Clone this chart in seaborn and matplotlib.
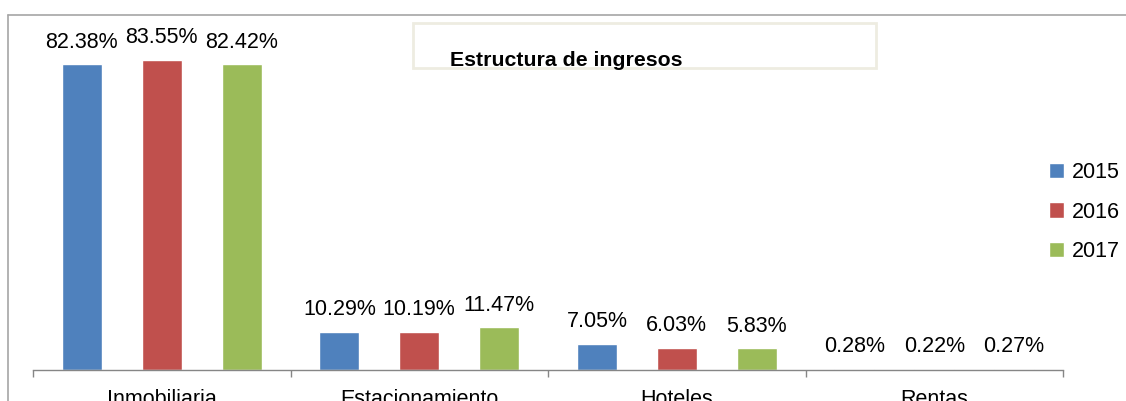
import matplotlib
matplotlib.use('Agg')
import matplotlib.pyplot as plt
from matplotlib.lines import Line2D
from matplotlib.patches import Rectangle
import pandas as pd
import seaborn as sns

categories = ['Inmobiliaria', 'Estacionamiento', 'Hoteles', 'Rentas']
years = ['2015', '2016', '2017']
v2015 = [82.38, 10.29, 7.05, 0.28]
v2016 = [83.55, 10.19, 6.03, 0.22]
v2017 = [82.42, 11.47, 5.83, 0.27]
colors = ['#4F81BD', '#C0504D', '#9BBB59']

df = pd.DataFrame({
    'categoria': categories * 3,
    'anio': [y for y in years for _ in categories],
    'valor': v2015 + v2016 + v2017,
})

sns.set_style('white')
plt.rcParams['font.family'] = ['Liberation Sans', 'DejaVu Sans']
plt.rcParams['text.color'] = 'black'
plt.rcParams['xtick.color'] = 'black'

fig = plt.figure(figsize=(11.26, 4.01), dpi=100)
W, H = 1126, 401
ax = fig.add_axes([33 / W, 1 - 370 / H, (1063 - 33) / W, (370 - 15) / H])

sns.barplot(data=df, x='categoria', y='valor', hue='anio', order=categories,
            hue_order=years, palette=colors, width=0.93, gap=0.5,
            saturation=1, ax=ax, legend=True)

# value labels above each bar
for cont in ax.containers:
    for bar in cont:
        h = bar.get_height()
        ax.annotate(f'{h:.2f}%', (bar.get_x() + bar.get_width() / 2, h),
                    xytext=(0, 16), textcoords='offset points',
                    ha='center', va='center', fontsize=15.5, color='black')

ax.set_xlim(-0.5, 3.5)
ax.set_ylim(0, 95.7)
ax.set_xlabel('')
ax.set_ylabel('')
ax.set_yticks([])
for s in ['top', 'right', 'left']:
    ax.spines[s].set_visible(False)
ax.spines['bottom'].set_color('#868686')
ax.spines['bottom'].set_linewidth(1)
ax.tick_params(axis='x', which='major', length=0, pad=14, labelsize=15.5,
               labelcolor='black')
ax.set_xticks([-0.5, 0.5, 1.5, 2.5, 3.5], minor=True)
ax.tick_params(axis='x', which='minor', bottom=True, length=5, width=1,
               color='#868686', direction='out')
ax.set_facecolor('none')

leg = ax.legend(loc='center left', bbox_to_anchor=(1030 / W, 1 - 212 / H),
                bbox_transform=fig.transFigure, frameon=False, fontsize=15.5,
                handlelength=0.7, handleheight=0.7, handletextpad=0.35,
                labelspacing=0.85)
for t in leg.get_texts():
    t.set_color('black')

# title box
fig.add_artist(Rectangle((413 / W, 1 - 68 / H), (876 - 413) / W, (68 - 23) / H,
                         transform=fig.transFigure, fill=False,
                         edgecolor='#EEECE1', linewidth=2))
fig.text(566 / W, 1 - 66 / H, 'Estructura de ingresos', ha='center',
         va='baseline', fontsize=15.3, fontweight='bold', color='black')

# outer chart frame
fig.add_artist(Line2D([8 / W, 1], [1 - 15 / H, 1 - 15 / H],
                      transform=fig.transFigure, color='#A6A6A6', lw=1.2))
fig.add_artist(Line2D([8 / W, 8 / W], [0, 1 - 15 / H],
                      transform=fig.transFigure, color='#A6A6A6', lw=1.2))

fig.savefig('out.png', dpi=100)
